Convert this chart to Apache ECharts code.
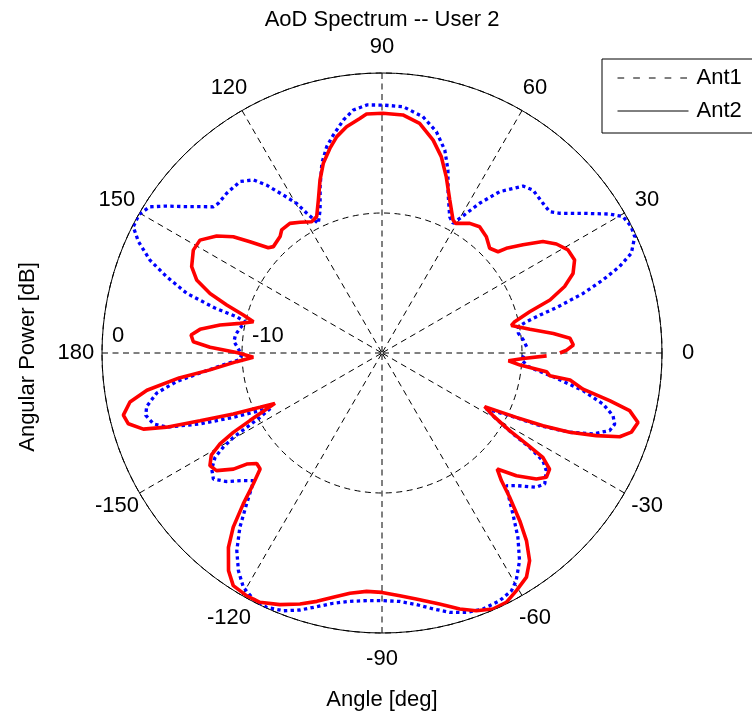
<!DOCTYPE html>
<html>
<head>
<meta charset="utf-8">
<script src="https://cdn.jsdelivr.net/npm/echarts@6/dist/echarts.min.js"></script>
<style>
  html, body { margin: 0; padding: 0; background: #fff; }
  #chart { width: 752px; height: 718px; }
</style>
</head>
<body>
<div id="chart"></div>
<script>
// ---- data (angle in degrees, power in dB) ----
const ant1Angle = [2.5, 5.3, 8.2, 10.9, 12.2, 13.5, 14.6, 16.5, 18.3, 20.0, 21.8, 24.7, 26.9, 29.5, 31.4, 34.8, 38.2, 40.1, 42.9, 47.2, 49.8, 53.9, 56.9, 60.0, 61.3, 63.6, 67.5, 70.2, 72.8, 76.2, 80.2, 85.1, 89.8, 93.5, 96.7, 99.4, 102.6, 105.0, 107.6, 110.4, 113.4, 116.2, 118.3, 119.7, 122.0, 124.5, 126.6, 129.6, 134.2, 137.6, 139.1, 141.2, 143.6, 145.7, 147.8, 150.3, 153.1, 155.4, 158.2, 160.5, 163.0, 164.9, 166.0, 167.3, 170.1, 173.0, 175.6, 178.8, -179.2, -177.2, -175.7, -174.0, -172.1, -169.9, -167.2, -165.2, -162.8, -161.0, -158.7, -156.6, -154.7, -153.8, -152.2, -151.2, -150.4, -149.3, -148.0, -145.7, -143.2, -140.4, -137.4, -135.2, -134.1, -131.9, -129.2, -126.3, -123.4, -120.6, -117.6, -114.4, -110.9, -107.7, -104.4, -101.0, -97.3, -93.5, -89.8, -85.9, -82.2, -78.7, -75.4, -72.0, -68.5, -64.6, -61.4, -59.5, -56.5, -53.6, -50.9, -48.2, -46.9, -44.6, -41.0, -38.8, -35.6, -33.8, -32.6, -31.7, -30.0, -28.2, -26.1, -24.7, -22.9, -21.0, -18.8, -17.0, -15.2, -13.0, -10.6, -7.9, -6.7, -5.3, -2.9, -0.1];
const ant1Power = [-9.66, -9.86, -10.16, -10.08, -9.43, -8.39, -7.1, -5.02, -3.38, -1.94, -0.82, -0.13, -0.04, -0.22, -0.95, -2.52, -3.86, -4.34, -4.30, -4.13, -4.39, -5.74, -7.23, -8.9, -9.44, -9.13, -7.66, -6.10, -4.83, -3.72, -2.87, -2.34, -2.29, -2.25, -2.52, -3.13, -4.05, -4.74, -5.79, -7.32, -8.87, -9.69, -8.66, -7.7, -6.7, -5.45, -4.6, -4.1, -4.09, -4.16, -4.05, -3.32, -2.38, -1.38, -0.4, -0.02, -0.08, -0.86, -2.15, -3.68, -5.41, -7.6, -9.3, -10.0, -9.7, -9.45, -9.4, -9.78, -9.98, -9.73, -8.63, -7.17, -5.19, -3.65, -2.76, -2.55, -2.9, -3.73, -6.05, -8.43, -10.36, -11.21, -10.15, -8.97, -7.79, -6.81, -5.94, -5.28, -4.96, -5.6, -6.54, -7.05, -6.63, -5.52, -3.94, -2.48, -1.37, -0.55, -0.17, -0.05, -0.29, -0.73, -1.29, -1.79, -2.12, -2.28, -2.31, -2.21, -1.86, -1.36, -0.86, -0.52, -0.34, -0.41, -0.67, -1.12, -2.2, -3.64, -5.17, -6.49, -7.01, -6.51, -5.39, -5.08, -5.57, -6.17, -7.48, -9.0, -10.57, -11.55, -9.84, -7.6, -5.45, -3.86, -2.82, -2.62, -2.9, -3.8, -5.39, -7.64, -8.64, -9.5, -10.01, -9.79];

const ant2Angle = [0.0, 0.9, 2.4, 4.5, 6.5, 9.1, 12.0, 13.3, 15.6, 17.5, 20.0, 22.6, 25.8, 29.0, 32.0, 34.7, 37.5, 40.1, 41.1, 44.2, 48.1, 52.3, 55.9, 60.4, 61.9, 66.1, 70.0, 73.2, 76.5, 80.7, 85.0, 89.8, 93.7, 95.4, 98.9, 101.8, 104.3, 107.2, 109.7, 112.6, 115.6, 118.2, 122.1, 125.4, 129.2, 131.2, 135.6, 137.2, 139.9, 142.0, 144.7, 148.2, 151.4, 155.6, 158.5, 160.9, 162.8, 164.7, 166.3, 168.2, 170.2, 172.6, 174.6, 176.6, 178.1, 179.0, 179.9, -178.1, -176.6, -174.4, -173.0, -171.0, -169.0, -166.5, -164.4, -162.3, -161.0, -159.6, -157.7, -156.0, -154.8, -154.1, -152.9, -151.9, -150.7, -149.1, -146.8, -144.6, -142.0, -140.6, -138.6, -136.4, -134.5, -132.6, -130.5, -128.3, -125.2, -122.6, -119.1, -116.1, -112.1, -108.1, -104.7, -101.3, -97.6, -93.7, -90.0, -85.8, -82.1, -77.1, -73.1, -69.9, -66.6, -63.5, -60.5, -57.2, -54.6, -52.4, -50.6, -48.5, -46.9, -45.2, -42.4, -39.2, -37.1, -34.7, -33.0, -32.2, -31.3, -29.4, -27.6, -25.6, -24.3, -22.9, -21.1, -19.4, -17.6, -15.2, -13.1, -11.8, -10.2, -8.2, -7.7, -6.5, -5.0, -3.5, -2.2, -1.0];
const ant2Power = [-7.29, -6.81, -6.32, -6.53, -7.68, -9.3, -10.55, -10.26, -9.05, -7.42, -6.12, -5.22, -4.72, -4.81, -5.31, -6.02, -7.31, -8.39, -9.0, -9.27, -8.84, -8.6, -8.82, -9.35, -9.23, -8.05, -6.59, -5.35, -4.36, -3.38, -2.93, -2.88, -2.89, -3.17, -3.64, -4.21, -4.92, -5.82, -6.87, -8.17, -9.2, -9.36, -8.98, -8.64, -8.66, -8.95, -9.14, -8.93, -7.67, -6.52, -5.53, -4.7, -4.65, -5.07, -5.77, -7.0, -8.39, -9.73, -10.55, -9.64, -8.26, -6.89, -6.3, -6.5, -7.71, -8.8, -9.7, -10.8, -9.6, -7.65, -5.4, -3.0, -1.66, -1.0, -1.19, -2.11, -3.73, -6.13, -8.52, -10.46, -11.55, -10.84, -9.4, -7.96, -6.73, -5.79, -5.31, -5.5, -6.53, -7.5, -8.07, -7.98, -6.88, -5.36, -3.64, -2.3, -0.98, -0.28, -0.15, -0.17, -0.6, -1.14, -1.66, -2.21, -2.69, -2.94, -2.9, -2.62, -2.26, -1.6, -0.89, -0.4, -0.07, -0.1, -0.5, -0.95, -1.80, -3.09, -4.5, -6.24, -7.52, -8.32, -7.0, -5.77, -5.28, -5.44, -6.3, -7.81, -9.33, -10.9, -11.73, -9.36, -7.38, -5.45, -3.6, -2.0, -1.31, -1.05, -1.84, -3.39, -5.41, -6.43, -7.91, -8.17, -10.1, -10.95, -9.9, -8.24];

const seriesNames = ['Ant1', 'Ant2'];
const angleTickLabels = [0, 30, 60, 90, 120, 150, 180, -150, -120, -90, -60, -30];
const radiusTickLabels = [0, -10];
const titleText = 'AoD Spectrum -- User 2';
const xLabel = 'Angle [deg]';
const yLabel = 'Angular Power [dB]';

// ---- layout / style constants ----
const FONT = "'Liberation Sans', Arial, Helvetica, sans-serif";
const FS = 22;
const CX = 382, CY = 353, R = 280;
const ANGLE_LABEL_R = 1.86; // dB value just outside the 0 dB ring where angle labels sit

function pairs(power, angle) {
  return power.map((p, i) => [p, angle[i]]);
}

const chart = echarts.init(document.getElementById('chart'), null, { renderer: 'canvas' });

const dashed = { color: '#000', width: 1, type: [6, 4.5] };

const option = {
  animation: false,
  backgroundColor: '#fff',
  title: {
    text: titleText,
    left: CX,
    textAlign: 'center',
    top: 9,
    padding: 0,
    textStyle: { fontSize: FS, fontWeight: 'normal', color: '#000', fontFamily: FONT }
  },
  legend: {
    orient: 'vertical',
    left: 602,
    top: 59,
    padding: [8, 14, 11, 15],
    itemGap: 11,
    itemWidth: 71,
    itemHeight: 14,
    borderColor: '#000',
    borderWidth: 1,
    borderRadius: 0,
    backgroundColor: '#fff',
    selectedMode: false,
    itemStyle: { opacity: 0 },
    textStyle: { fontSize: FS, color: '#000', fontFamily: FONT, padding: [0, 0, 0, 3] },
    data: [
      { name: seriesNames[0], itemStyle: { opacity: 0 }, lineStyle: { color: '#000', width: 1, type: [6.7, 9] } },
      { name: seriesNames[1], itemStyle: { opacity: 0 }, lineStyle: { color: '#000', width: 1, type: 'solid' } }
    ]
  },
  polar: { center: [CX, CY], radius: R },
  angleAxis: {
    type: 'value',
    min: -180,
    max: 180,
    interval: 30,
    startAngle: 180,
    clockwise: false,
    axisLine: { show: true, lineStyle: { color: '#000', width: 1 } },
    axisTick: { show: false },
    axisLabel: { show: false },
    splitLine: { show: true, lineStyle: dashed }
  },
  radiusAxis: {
    type: 'value',
    min: -20,
    max: 0,
    interval: 10,
    axisLine: { show: false },
    axisTick: { show: false },
    axisLabel: { show: false },
    splitLine: { show: true, lineStyle: dashed }
  },
  series: [
    {
      name: seriesNames[0],
      type: 'line',
      coordinateSystem: 'polar',
      data: pairs(ant1Power, ant1Angle),
      symbol: 'none',
      showSymbol: false,
      smooth: false,
      z: 3,
      lineStyle: { color: '#0000ff', width: 3.3, type: [3.4, 3.3] },
      itemStyle: { color: '#0000ff' }
    },
    {
      name: seriesNames[1],
      type: 'line',
      coordinateSystem: 'polar',
      data: pairs(ant2Power, ant2Angle),
      symbol: 'none',
      showSymbol: false,
      smooth: false,
      z: 4,
      lineStyle: { color: '#ff0000', width: 3.6, type: 'solid' },
      itemStyle: { color: '#ff0000' }
    }
  ]
};

chart.setOption(option);

// ---- text placed through the polar coordinate system ----
const graphics = [];
angleTickLabels.forEach(a => {
  const p = chart.convertToPixel({ seriesIndex: 0 }, [ANGLE_LABEL_R, a]);
  graphics.push({
    type: 'text', x: p[0], y: p[1], silent: true,
    style: { text: String(a), fontSize: FS, fontFamily: FONT, fill: '#000', align: 'center', verticalAlign: 'middle' }
  });
});
radiusTickLabels.forEach(v => {
  const p = chart.convertToPixel({ seriesIndex: 0 }, [v, 180]);
  graphics.push({
    type: 'text', x: p[0] + 10, y: p[1] - 17, silent: true,
    style: { text: String(v), fontSize: FS, fontFamily: FONT, fill: '#000', align: 'left', verticalAlign: 'middle' }
  });
});
graphics.push({
  type: 'text', x: CX, y: 700, silent: true,
  style: { text: xLabel, fontSize: FS, fontFamily: FONT, fill: '#000', align: 'center', verticalAlign: 'middle' }
});
graphics.push({
  type: 'text', x: 28, y: 357, rotation: Math.PI / 2, silent: true,
  style: { text: yLabel, fontSize: FS, fontFamily: FONT, fill: '#000', align: 'center', verticalAlign: 'middle' }
});
chart.setOption({ graphic: graphics });
</script>
</body>
</html>
